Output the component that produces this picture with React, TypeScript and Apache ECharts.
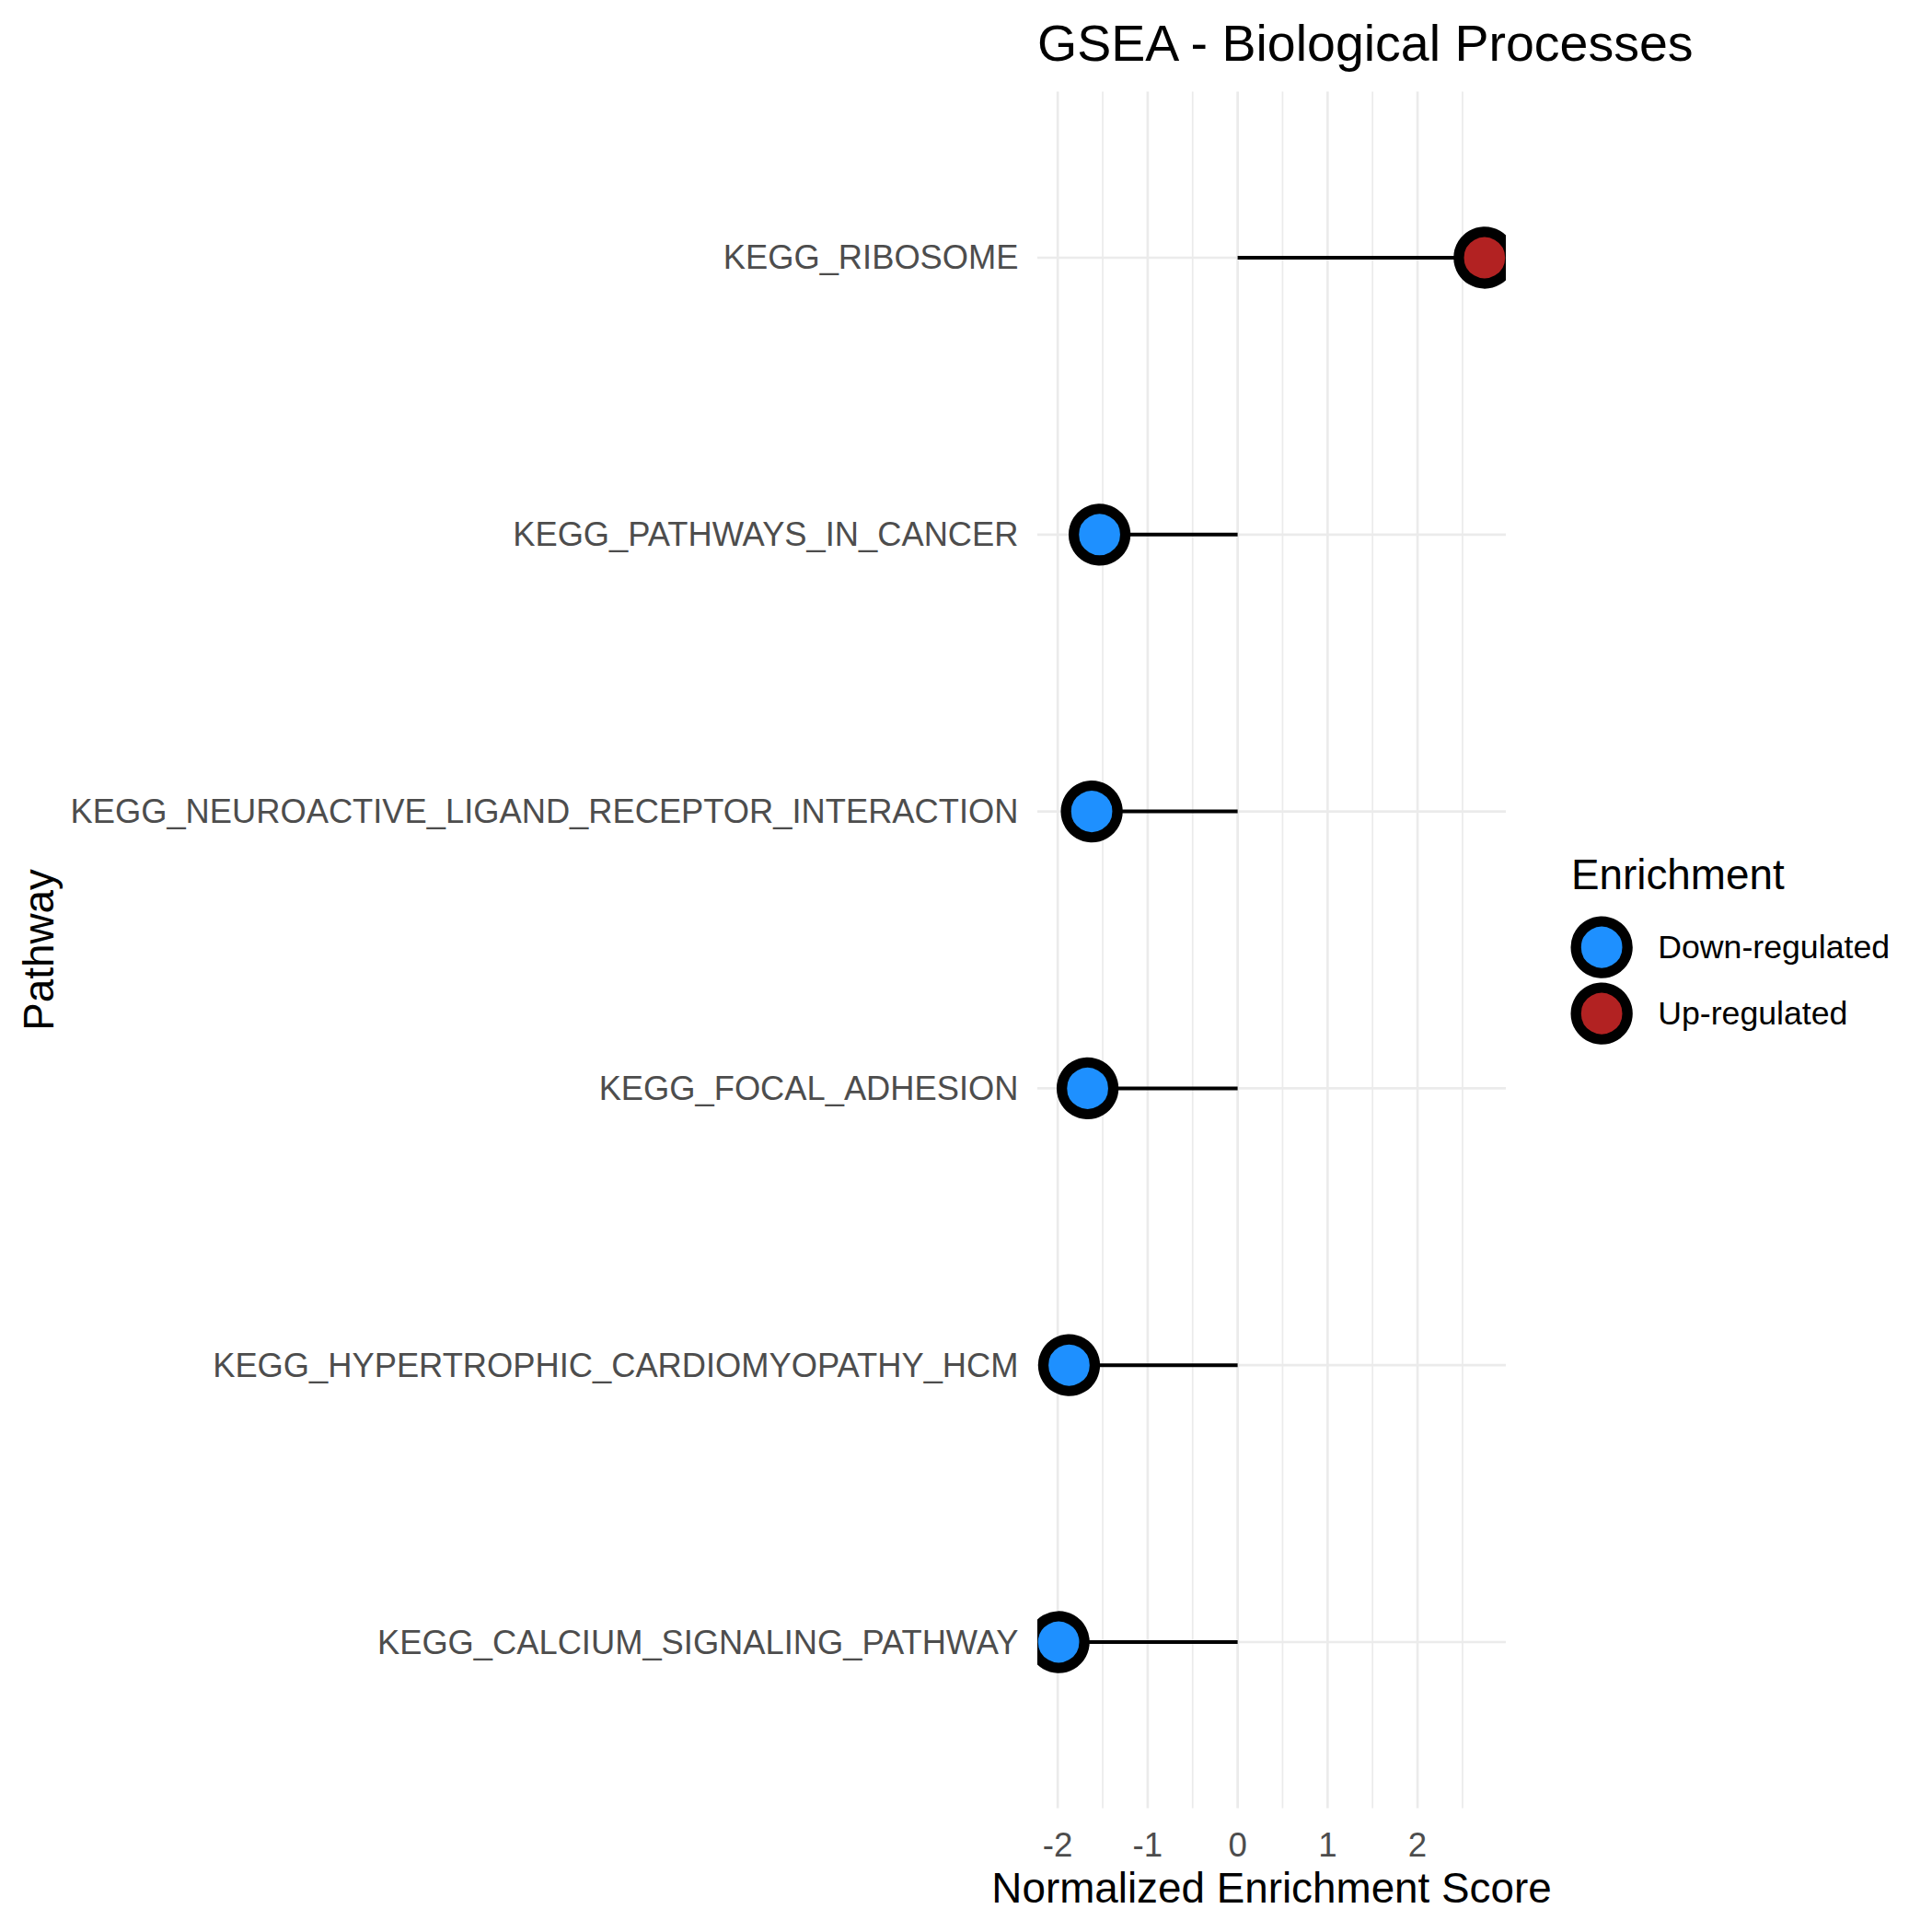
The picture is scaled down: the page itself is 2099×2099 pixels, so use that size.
import React, { useEffect, useRef } from 'react';
import * as echarts from 'echarts';

// ---- data ----
const pathways = [
  'KEGG_CALCIUM_SIGNALING_PATHWAY',
  'KEGG_HYPERTROPHIC_CARDIOMYOPATHY_HCM',
  'KEGG_FOCAL_ADHESION',
  'KEGG_NEUROACTIVE_LIGAND_RECEPTOR_INTERACTION',
  'KEGG_PATHWAYS_IN_CANCER',
  'KEGG_RIBOSOME',
];
const nes = [-1.99, -1.874, -1.668, -1.622, -1.535, 2.745];
const enrichmentLevels = ['Down-regulated', 'Up-regulated'];
const enrichmentColors = ['#1E90FF', '#B22222'];
const xMajorTicks = [-2, -1, 0, 1, 2];
const xMinorTicks = [-1.5, -0.5, 0.5, 1.5, 2.5];

const FONT = "'Liberation Sans', Arial, Helvetica, sans-serif";

export default function App() {
  const ref = useRef<HTMLDivElement>(null);

  useEffect(() => {
    if (!ref.current) return;
    const chart = echarts.init(ref.current, undefined, { renderer: 'svg' });

    // ggplot-like 5% expansion of continuous range (segments start at 0)
    const lo = Math.min(0, ...nes);
    const hi = Math.max(0, ...nes);
    const span = hi - lo;
    const xMin = lo - 0.05 * span;
    const xMax = hi + 0.05 * span;
    // discrete expansion of 0.6 units
    const yMin = 1 - 0.6;
    const yMax = pathways.length + 0.6;

    const enrichmentOf = (v: number) => (v < 0 ? 0 : 1);

    const pointSeries = enrichmentLevels.map((lvl, k) => ({
      name: lvl,
      type: 'custom',
      z: 5,
      clip: true,
      silent: true,
      itemStyle: {
        color: enrichmentColors[k],
        borderColor: '#000000',
        borderWidth: 11.3,
      },
      data: nes
        .map((v, i) => (enrichmentOf(v) === k ? [v, i + 1] : null))
        .filter((d) => d !== null),
      renderItem: (params: any, api: any) => {
        const p = api.coord([api.value(0), api.value(1)]);
        return {
          type: 'circle',
          shape: { cx: p[0], cy: p[1], r: 28 },
          style: { fill: enrichmentColors[k], stroke: '#000000', lineWidth: 11.3 },
        };
      },
    }));

    const option: any = {
      animation: false,
      backgroundColor: '#ffffff',
      textStyle: { fontFamily: FONT },
      title: {
        text: 'GSEA - Biological Processes',
        left: 1127,
        top: 19,
        padding: 0,
        textStyle: { fontFamily: FONT, fontSize: 55.5, fontWeight: 'normal', color: '#000000' },
      },
      legend: {
        orient: 'vertical',
        left: 1706.5,
        top: 995.5,
        itemWidth: 56,
        itemHeight: 56,
        itemGap: 4.7,
        padding: 0,
        icon: 'circle',
        data: enrichmentLevels,
        itemStyle: { borderColor: '#000000', borderWidth: 11.3 },
        textStyle: {
          fontFamily: FONT,
          fontSize: 35.7,
          color: '#000000',
          padding: [0, 0, 0, 28],
        },
      },
      graphic: [
        {
          type: 'text',
          left: 1707,
          top: 950 - 23,
          style: {
            text: 'Enrichment',
            font: `45.8px ${FONT}`,
            fill: '#000000',
          },
        },
      ],
      grid: {
        left: 1127,
        right: 2099 - 1636,
        top: 99.5,
        bottom: 2099 - 1964.5,
        containLabel: false,
      },
      xAxis: {
        type: 'value',
        min: xMin,
        max: xMax,
        splitNumber: 5,
        name: 'Normalized Enrichment Score',
        nameLocation: 'middle',
        nameGap: 64,
        nameTextStyle: { fontFamily: FONT, fontSize: 45.8, color: '#000000' },
        axisLine: { show: false },
        axisTick: { show: false },
        splitLine: { show: false },
        axisLabel: {
          showMinLabel: false,
          showMaxLabel: false,
          margin: 21,
          fontFamily: FONT,
          fontSize: 36.7,
          color: '#4D4D4D',
        },
      },
      yAxis: {
        type: 'value',
        min: yMin,
        max: yMax,
        splitNumber: pathways.length,
        name: 'Pathway',
        nameLocation: 'middle',
        nameRotate: 90,
        nameGap: 1062,
        nameTextStyle: { fontFamily: FONT, fontSize: 45.8, color: '#000000' },
        axisLine: { show: false },
        axisTick: { show: false },
        splitLine: { show: false },
        axisLabel: {
          margin: 20.5,
          fontFamily: FONT,
          fontSize: 36.3,
          color: '#4D4D4D',
          formatter: (v: number) => {
            const r = Math.round(v);
            if (Math.abs(v - r) > 1e-6) return '';
            return pathways[r - 1] ?? '';
          },
        },
      },
      series: [
        {
          type: 'custom',
          name: 'vgrid',
          z: 1,
          silent: true,
          data: [
            ...xMajorTicks.map((v) => [v, 0]),
            ...xMinorTicks.map((v) => [v, 1]),
          ],
          renderItem: (params: any, api: any) => {
            const cs = params.coordSys;
            const x = api.coord([api.value(0), yMin])[0];
            return {
              type: 'line',
              shape: { x1: x, y1: cs.y, x2: x, y2: cs.y + cs.height },
              style: { stroke: '#EBEBEB', lineWidth: api.value(1) ? 1.7 : 2.7 },
            };
          },
        },
        {
          type: 'custom',
          name: 'hgrid',
          z: 1,
          silent: true,
          data: pathways.map((_, i) => [0, i + 1]),
          renderItem: (params: any, api: any) => {
            const cs = params.coordSys;
            const y = api.coord([0, api.value(1)])[1];
            return {
              type: 'line',
              shape: { x1: cs.x, y1: y, x2: cs.x + cs.width, y2: y },
              style: { stroke: '#EBEBEB', lineWidth: 2.7 },
            };
          },
        },
        {
          type: 'custom',
          name: 'segments',
          z: 3,
          silent: true,
          data: nes.map((v, i) => [v, i + 1]),
          renderItem: (params: any, api: any) => {
            const p0 = api.coord([0, api.value(1)]);
            const p1 = api.coord([api.value(0), api.value(1)]);
            return {
              type: 'line',
              shape: { x1: p0[0], y1: p0[1], x2: p1[0], y2: p1[1] },
              style: { stroke: '#000000', lineWidth: 4 },
            };
          },
        },
        ...pointSeries,
      ],
    };

    chart.setOption(option);
    return () => chart.dispose();
  }, []);

  return (
    <div
      ref={ref}
      style={{ position: 'absolute', left: 0, top: 0, width: 2099, height: 2099 }}
    />
  );
}
